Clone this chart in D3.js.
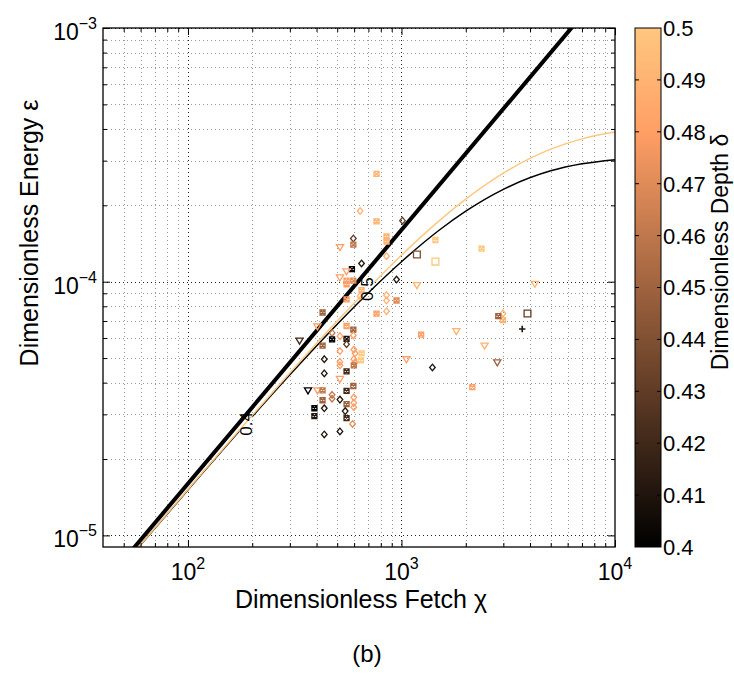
<!DOCTYPE html>
<html>
<head>
<meta charset="utf-8">
<script src="https://cdn.jsdelivr.net/npm/d3@7"></script>
<style>
  body { margin: 0; background: #fff; }
  text { font-family: "Liberation Sans", Arial, Helvetica, sans-serif; }
</style>
</head>
<body>
<svg id="chart" width="734" height="677"></svg>
<script>
// ---- axis ticks ----
const xMajor = [100, 1000, 10000];
const xMajorExp = ["2", "3", "4"];
const xMinor = [50, 60, 70, 80, 90, 200, 300, 400, 500, 600, 700, 800, 900,
                2000, 3000, 4000, 5000, 6000, 7000, 8000, 9000];
const yMajor = [1e-5, 1e-4, 1e-3];
const yMajorExp = ["\u22125", "\u22124", "\u22123"];
const yMinor = [2e-5, 3e-5, 4e-5, 5e-5, 6e-5, 7e-5, 8e-5, 9e-5,
                2e-4, 3e-4, 4e-4, 5e-4, 6e-4, 7e-4, 8e-4, 9e-4];
const depthTicks = [0.4, 0.41, 0.42, 0.43, 0.44, 0.45, 0.46, 0.47, 0.48, 0.49, 0.5];
const depthTickLabels = ["0.4", "0.41", "0.42", "0.43", "0.44", "0.45", "0.46", "0.47", "0.48", "0.49", "0.5"];

// ---- deep-water growth limit, eps = 1.6e-7 chi ----
const limitChi = [40, 10000];
const limitEps = [6.4e-6, 1.6e-3];

// ---- finite-depth growth curves (delta = 0.4 and 0.5) ----
const curveChi = [40, 100, 200, 300, 500, 700, 1000, 1500, 2000, 3000, 5000, 7000, 10000];
const curveEps04 = [6.17e-6, 1.511e-5, 2.939e-5, 4.294e-5, 6.798e-5, 9.048e-5, 1.199e-4,
                    1.595e-4, 1.897e-4, 2.313e-4, 2.735e-4, 2.916e-4, 3.028e-4];
const curveEps05 = [6.18e-6, 1.518e-5, 2.972e-5, 4.367e-5, 6.998e-5, 9.428e-5, 1.272e-4,
                    1.737e-4, 2.116e-4, 2.680e-4, 3.331e-4, 3.656e-4, 3.888e-4];
const contourLabels = ["0.4", "0.5"];
const contourLabelChi = [187, 693];
const contourLabelEps = [2.75e-5, 9.35e-5];

// ---- observations ----
const obsChi = [764, 640, 764, 1011, 595, 595, 851, 851, 515, 851,
                650, 586, 553, 515, 553, 553, 650, 595, 948, 1181,
                1442, 1442, 1181, 851, 851, 948, 640, 553, 764, 851,
                427, 404, 553, 595, 595, 473, 515, 553, 473, 553,
                333, 427, 598, 606, 515, 650, 435, 598, 606, 645,
                515, 515, 598, 1055, 1807, 1236, 1396, 435, 553, 515,
                595, 365, 404, 427, 553, 473, 473, 427, 515, 598,
                598, 598, 553, 391, 435, 545, 391, 553, 590, 435,
                515, 2373, 4215, 2987, 2987, 2840, 3892, 3677, 2451, 2809,
                2147];
const obsEps = [2.66e-4, 1.90e-4, 1.73e-4, 1.74e-4, 1.48e-4, 1.40e-4, 1.51e-4, 1.44e-4, 1.37e-4, 1.26e-4,
                1.18e-4, 1.12e-4, 1.10e-4, 1.04e-4, 1.01e-4, 9.77e-5, 9.26e-5, 1.01e-4, 1.02e-4, 1.28e-4,
                1.46e-4, 1.20e-4, 9.7e-5, 8.85e-5, 8.43e-5, 8.43e-5, 8.77e-5, 8.51e-5, 7.49e-5, 7.65e-5,
                7.56e-5, 6.67e-5, 6.69e-5, 6.47e-5, 6.14e-5, 6.28e-5, 6.10e-5, 5.95e-5, 5.92e-5, 5.67e-5,
                5.86e-5, 5.60e-5, 5.40e-5, 5.22e-5, 5.33e-5, 5.22e-5, 4.95e-5, 4.95e-5, 4.81e-5, 4.90e-5,
                4.83e-5, 4.68e-5, 4.68e-5, 4.95e-5, 6.39e-5, 6.19e-5, 4.59e-5, 4.35e-5, 4.43e-5, 4.14e-5,
                3.88e-5, 3.73e-5, 3.73e-5, 3.73e-5, 3.71e-5, 3.58e-5, 3.46e-5, 3.41e-5, 3.43e-5, 3.50e-5,
                3.33e-5, 3.20e-5, 3.29e-5, 3.17e-5, 3.17e-5, 3.09e-5, 2.95e-5, 2.90e-5, 2.75e-5, 2.50e-5,
                2.57e-5, 1.35e-4, 9.82e-5, 7.50e-5, 7.05e-5, 7.31e-5, 7.49e-5, 6.51e-5, 5.60e-5, 4.81e-5,
                3.84e-5];
const obsDelta = [0.49, 0.49, 0.49, 0.43, 0.43, 0.46, 0.49, 0.49, 0.48, 0.49,
                  0.41, 0.40, 0.48, 0.48, 0.48, 0.48, 0.49, 0.47, 0.41, 0.44,
                  0.50, 0.50, 0.49, 0.49, 0.49, 0.47, 0.49, 0.48, 0.48, 0.49,
                  0.45, 0.48, 0.48, 0.45, 0.48, 0.46, 0.48, 0.41, 0.40, 0.43,
                  0.42, 0.45, 0.48, 0.48, 0.48, 0.50, 0.41, 0.48, 0.48, 0.50,
                  0.48, 0.48, 0.46, 0.48, 0.49, 0.48, 0.41, 0.41, 0.42, 0.48,
                  0.45, 0.40, 0.48, 0.46, 0.42, 0.46, 0.46, 0.45, 0.41, 0.48,
                  0.48, 0.48, 0.45, 0.40, 0.41, 0.41, 0.41, 0.42, 0.47, 0.41,
                  0.41, 0.50, 0.49, 0.49, 0.49, 0.45, 0.43, 0.41, 0.49, 0.45,
                  0.48];
const obsMarker = ["x", "d", "x", "d", "d", "x", "x", "x", "v", "d",
                   "d", "x", "v", "v", "x", "x", "x", "x", "d", "s",
                   "x", "s", "v", "d", "d", "x", "d", "x", "x", "d",
                   "x", "v", "x", "x", "d", "d", "d", "x", "x", "d",
                   "v", "x", "d", "d", "d", "x", "d", "d", "d", "x",
                   "d", "d", "x", "v", "v", "x", "d", "d", "x", "v",
                   "x", "v", "v", "x", "x", "d", "d", "x", "d", "d",
                   "d", "d", "x", "x", "d", "d", "x", "x", "d", "d",
                   "d", "x", "v", "d", "x", "x", "s", "+", "v", "v",
                   "x"];

// ---- layout ----
const plot = { left: 103, right: 615, top: 28, bottom: 547 };
const cbar = { left: 635, right: 661 };

const svg = d3.select("#chart");
const x = d3.scaleLog().domain([40, 1e4]).range([plot.left, plot.right]);
const y = d3.scaleLog().domain([9e-6, 1e-3]).range([plot.bottom, plot.top]);
const copper = d3.scaleLinear()
  .domain([0.4, 0.48, 0.5])
  .range(["rgb(0,0,0)", "rgb(255,159,101)", "rgb(255,199,127)"]);
const cy = d3.scaleLinear().domain([0.4, 0.5]).range([plot.bottom, plot.top]);

const defs = svg.append("defs");
defs.append("clipPath").attr("id", "plotClip")
  .append("rect")
  .attr("x", plot.left).attr("y", plot.top)
  .attr("width", plot.right - plot.left).attr("height", plot.bottom - plot.top);

// ---- grid ----
const grid = svg.append("g").attr("fill", "none");
function vGrid(vals, color) {
  grid.selectAll(null).data(vals).join("line")
    .attr("x1", d => Math.round(x(d)) + 0.5).attr("x2", d => Math.round(x(d)) + 0.5)
    .attr("y1", plot.top).attr("y2", plot.bottom)
    .attr("stroke", color).attr("stroke-width", 1).attr("stroke-dasharray", "1,3");
}
function hGrid(vals, color) {
  grid.selectAll(null).data(vals).join("line")
    .attr("y1", d => Math.round(y(d)) + 0.5).attr("y2", d => Math.round(y(d)) + 0.5)
    .attr("x1", plot.left).attr("x2", plot.right)
    .attr("stroke", color).attr("stroke-width", 1).attr("stroke-dasharray", "1,3");
}
vGrid(xMinor, "#9a9a9a");
hGrid(yMinor, "#9a9a9a");
vGrid(xMajor.slice(0, 2), "#222");
hGrid(yMajor, "#222");

// ---- contour labels (with gaps cut in their own line) ----
const labelW = 13, labelH = 28;
contourLabels.forEach((lab, i) => {
  const m = defs.append("mask").attr("id", "gap" + i).attr("maskUnits", "userSpaceOnUse")
    .attr("x", 0).attr("y", 0).attr("width", 734).attr("height", 677);
  m.append("rect").attr("x", 0).attr("y", 0).attr("width", 734).attr("height", 677).attr("fill", "#fff");
  m.append("rect")
    .attr("x", x(contourLabelChi[i]) - labelW / 2)
    .attr("y", y(contourLabelEps[i]) - labelH / 2)
    .attr("width", labelW).attr("height", labelH).attr("fill", "#000");
});

// ---- curves ----
const lines = svg.append("g").attr("clip-path", "url(#plotClip)").attr("fill", "none");
const lineGen = d3.line().x(d => x(d[0])).y(d => y(d[1])).curve(d3.curveMonotoneX);

lines.append("path")
  .attr("d", lineGen(d3.zip(curveChi, curveEps04)))
  .attr("stroke", copper(0.4)).attr("stroke-width", 1.5)
  .attr("mask", "url(#gap0)");
lines.append("path")
  .attr("d", lineGen(d3.zip(curveChi, curveEps05)))
  .attr("stroke", copper(0.5)).attr("stroke-width", 1.5)
  .attr("mask", "url(#gap1)");

// ---- observations ----
const markerPath = {
  d: "M0,-3.3L2.8,0L0,3.3L-2.8,0Z",
  x: "M-2.5,-2.5L2.5,2.5M-2.5,2.5L2.5,-2.5M-2.5,-2.5H2.5V2.5H-2.5Z",
  v: "M-3.6,-2.4H3.6L0,3.6Z",
  s: "M-3.4,-3.4H3.4V3.4H-3.4Z",
  "+": "M-3.2,0H3.2M0,-3.2V3.2"
};
const obs = d3.range(obsChi.length).map(i => ({
  chi: obsChi[i], eps: obsEps[i], delta: obsDelta[i], marker: obsMarker[i]
}));
svg.append("g").attr("clip-path", "url(#plotClip)")
  .selectAll("path").data(obs).join("path")
  .attr("transform", d => `translate(${x(d.chi)},${y(d.eps)})`)
  .attr("d", d => markerPath[d.marker])
  .attr("fill", "none")
  .attr("stroke", d => copper(d.delta))
  .attr("stroke-width", d => d.marker === "+" ? 1.6 : 1.3);

// deep-water limit on top
lines.append("path")
  .attr("d", d3.line().x(d => x(d[0])).y(d => y(d[1]))(d3.zip(limitChi, limitEps)))
  .attr("stroke", "#000").attr("stroke-width", 4);

// contour level labels
contourLabels.forEach((lab, i) => {
  svg.append("text")
    .attr("transform", `translate(${x(contourLabelChi[i])},${y(contourLabelEps[i])}) rotate(-90)`)
    .attr("text-anchor", "middle").attr("dy", "0.35em")
    .attr("font-size", 17).attr("fill", "#000")
    .text(lab);
});

// ---- axes: inward ticks on all four sides ----
function addAxis(axis, tx, ty) {
  const g = svg.append("g").attr("transform", `translate(${tx},${ty})`).call(axis);
  g.select(".domain").remove();
  g.selectAll(".tick line").attr("stroke", "#000");
  g.selectAll(".tick text").remove();
}
addAxis(d3.axisBottom(x).tickValues(xMajor).tickSize(-7), 0, plot.bottom);
addAxis(d3.axisBottom(x).tickValues(xMinor).tickSize(-4), 0, plot.bottom);
addAxis(d3.axisTop(x).tickValues(xMajor).tickSize(-7), 0, plot.top);
addAxis(d3.axisTop(x).tickValues(xMinor).tickSize(-4), 0, plot.top);
addAxis(d3.axisLeft(y).tickValues(yMajor).tickSize(-7), plot.left, 0);
addAxis(d3.axisLeft(y).tickValues(yMinor).tickSize(-4), plot.left, 0);
addAxis(d3.axisRight(y).tickValues(yMajor).tickSize(-7), plot.right, 0);
addAxis(d3.axisRight(y).tickValues(yMinor).tickSize(-4), plot.right, 0);

svg.append("rect")
  .attr("x", plot.left).attr("y", plot.top)
  .attr("width", plot.right - plot.left).attr("height", plot.bottom - plot.top)
  .attr("fill", "none").attr("stroke", "#000").attr("stroke-width", 1.3);

// tick labels with superscript exponents
const tickFont = 23, supFont = 16;
xMajor.forEach((v, i) => {
  const t = svg.append("text").attr("x", x(v)).attr("y", plot.bottom + 33)
    .attr("text-anchor", "middle").attr("font-size", tickFont);
  t.append("tspan").text("10");
  t.append("tspan").attr("dy", -11).attr("font-size", supFont).text(xMajorExp[i]);
});
yMajor.forEach((v, i) => {
  const t = svg.append("text").attr("x", 97).attr("y", y(v) + 12)
    .attr("text-anchor", "end").attr("font-size", tickFont);
  t.append("tspan").text("10");
  t.append("tspan").attr("dy", -11).attr("font-size", supFont).text(yMajorExp[i]);
});

// axis titles
svg.append("text").attr("x", 361).attr("y", 608).attr("text-anchor", "middle")
  .attr("font-size", 25).text("Dimensionless Fetch \u03c7");
svg.append("text").attr("transform", "translate(38,233) rotate(-90)")
  .attr("text-anchor", "middle").attr("font-size", 25).text("Dimensionless Energy \u03b5");

// ---- colorbar ----
const grad = defs.append("linearGradient").attr("id", "copperGrad")
  .attr("x1", 0).attr("y1", 1).attr("x2", 0).attr("y2", 0);
d3.range(0, 1.0001, 0.05).forEach(t => {
  grad.append("stop").attr("offset", t).attr("stop-color", copper(0.4 + 0.1 * t));
});
svg.append("rect")
  .attr("x", cbar.left).attr("y", plot.top)
  .attr("width", cbar.right - cbar.left).attr("height", plot.bottom - plot.top)
  .attr("fill", "url(#copperGrad)").attr("stroke", "#000").attr("stroke-width", 1);
const cbTicks = svg.append("g").attr("stroke", "#000").attr("stroke-width", 1);
cbTicks.selectAll(null).data(depthTicks.slice(1, -1)).join("line")
  .attr("x1", cbar.left).attr("x2", cbar.left + 4)
  .attr("y1", d => cy(d)).attr("y2", d => cy(d));
cbTicks.selectAll(null).data(depthTicks.slice(1, -1)).join("line")
  .attr("x1", cbar.right - 4).attr("x2", cbar.right)
  .attr("y1", d => cy(d)).attr("y2", d => cy(d));
svg.append("g").selectAll("text").data(depthTicks).join("text")
  .attr("x", cbar.right + 2).attr("y", d => cy(d)).attr("dy", "0.36em")
  .attr("font-size", 22)
  .text((d, i) => depthTickLabels[i]);
svg.append("text").attr("transform", "translate(728,252) rotate(-90)")
  .attr("text-anchor", "middle").attr("font-size", 23).text("Dimensionless Depth \u03b4");

// panel caption
svg.append("text").attr("x", 367).attr("y", 662).attr("text-anchor", "middle")
  .attr("font-family", "'DejaVu Serif', 'Liberation Serif', serif")
  .attr("font-size", 24).text("(b)");
</script>
</body>
</html>
